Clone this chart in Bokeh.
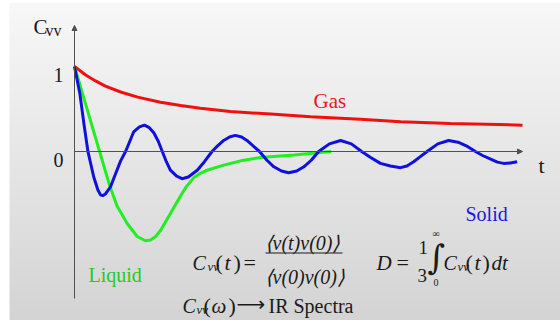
import numpy as np
from bokeh.plotting import figure
from bokeh.models import Range1d, Label, BoxAnnotation, Arrow, NormalHead
from bokeh.embed import file_html
from bokeh.resources import INLINE

# ---- data ----
gas_t = [0.00, 0.25, 0.47, 0.69, 1.03, 1.41, 1.92, 2.37, 2.81, 3.48, 4.38, 5.27, 6.38, 7.28, 8.39, 10.0]
gas_c = [1.00, 0.90, 0.83, 0.77, 0.70, 0.64, 0.58, 0.54, 0.51, 0.47, 0.44, 0.41, 0.38, 0.35, 0.33, 0.31]

liquid_t = [0.00, 0.28, 0.56, 0.79, 0.95, 1.18, 1.40, 1.58, 1.70, 1.81, 1.92, 2.14, 2.37, 2.50, 2.66,
            2.80, 2.96, 3.33, 3.71, 4.15, 4.90, 5.73]
liquid_c = [1.00, 0.50, 0.00, -0.41, -0.64, -0.85, -1.00, -1.05, -1.04, -1.00, -0.93, -0.73, -0.52, -0.41, -0.31,
            -0.26, -0.22, -0.16, -0.11, -0.07, -0.04, 0.00]

solid_t = [0.00, 0.12, 0.22, 0.30, 0.43, 0.52, 0.58, 0.63, 0.69, 0.80, 0.91, 1.03, 1.14, 1.32, 1.45, 1.56,
           1.67, 1.77, 1.87, 1.96, 2.05, 2.14, 2.28, 2.40, 2.54, 2.74, 2.90, 3.07, 3.20, 3.33, 3.46, 3.59,
           3.73, 3.85, 4.13, 4.29, 4.45, 4.62, 4.78, 4.96, 5.12, 5.29, 5.45, 5.69, 5.94, 6.18, 6.41, 6.61,
           6.83, 7.05, 7.28, 7.42, 7.57, 7.72, 7.87, 8.11, 8.35, 8.56, 8.77, 8.95, 9.12, 9.29, 9.44, 9.58,
           9.73, 9.88]
solid_c = [1.00, 0.68, 0.29, 0.00, -0.30, -0.45, -0.51, -0.52, -0.50, -0.42, -0.27, -0.11, 0.00, 0.23, 0.29, 0.31,
           0.28, 0.22, 0.12, 0.00, -0.12, -0.22, -0.29, -0.32, -0.30, -0.22, -0.12, 0.00, 0.07, 0.13, 0.17, 0.19,
           0.17, 0.13, 0.00, -0.10, -0.18, -0.23, -0.25, -0.23, -0.18, -0.10, 0.00, 0.09, 0.13, 0.09, 0.00, -0.07,
           -0.14, -0.17, -0.19, -0.17, -0.12, -0.06, 0.00, 0.09, 0.13, 0.11, 0.06, 0.00, -0.05, -0.09, -0.125, -0.14,
           -0.135, -0.12]

y_tick_values = ["1", "0"]
axis_labels = ["C", "vv", "t"]
series_labels = ["Gas", "Liquid", "Solid"]

# ---- layout ----
W, H = 560, 320
X0, PXT = 74.0, 44.8   # pixel of t=0, pixels per t unit
Y0, PXV = 151.0, 85.0  # pixel of C=0, pixels per C unit

p = figure(width=W, height=H, output_backend="svg", toolbar_location=None,
           x_range=Range1d(-X0 / PXT, (W - X0) / PXT),
           y_range=Range1d(-(H - Y0) / PXV, Y0 / PXV),
           min_border=0)
p.axis.visible = False
p.grid.visible = False
p.outline_line_color = None
p.background_fill_color = "white"
p.border_fill_color = "white"

# background gradient (slide)
n = 160
g = np.linspace(212, 248, n).astype(np.uint32)
img = np.empty((n, 1), dtype=np.uint32)
img[:, 0] = (255 << 24) | (g << 16) | (g << 8) | g
bx0 = (9 - X0) / PXT
by0 = -(H - Y0) / PXV
p.image_rgba(image=[img], x=bx0, y=by0, dw=(W - X0) / PXT - bx0, dh=(Y0 - 2) / PXV - by0)

# axes with arrows
axc = "#505050"
p.add_layout(Arrow(x_start=0, y_start=(Y0 - 298) / PXV, x_end=0, y_end=(Y0 - 25) / PXV,
                   line_color=axc, line_width=1,
                   end=NormalHead(size=5, line_color=axc, fill_color=axc)))
p.add_layout(Arrow(x_start=0, y_start=0, x_end=(522 - X0) / PXT, y_end=0,
                   line_color=axc, line_width=1,
                   end=NormalHead(size=5, line_color=axc, fill_color=axc)))

# curves
p.line(gas_t, gas_c, line_color="#f01010", line_width=3)
p.line(liquid_t, liquid_c, line_color="#22ee22", line_width=3)
p.line(solid_t, solid_c, line_color="#1010dd", line_width=3)

SERIF = "Liberation Serif"


def lbl(x, base, text, size, color="#1a1a1a", style="normal", align="left", font=SERIF):
    p.add_layout(Label(x=x, y=H - base, x_units="screen", y_units="screen", text=text,
                       text_font=font, text_font_size=f"{size}px", text_color=color,
                       text_font_style=style, text_align=align, text_baseline="alphabetic"))


# tick labels and axis labels
lbl(63, 74, y_tick_values[0], 20, align="right")
lbl(63, 159, y_tick_values[1], 20, align="right")
lbl(33, 26, axis_labels[0], 21)
lbl(45, 30, axis_labels[1], 16)
lbl(538, 165, axis_labels[2], 22)

# series labels
lbl(313, 100, series_labels[0], 21, color="#e8161e")
lbl(88, 274, series_labels[1], 20, color="#22cc22")
lbl(465, 213, series_labels[2], 20, color="#1818e0")

# formula 1
lbl(192, 262, "C", 20, style="italic")
lbl(207, 266, "vv", 13, style="italic")
lbl(215, 262, "(", 22)
lbl(224, 262, "t", 22, style="italic")
lbl(233, 262, ")", 22)
lbl(243, 262, "=", 22)
lbl(264, 242, "⟨v(t)v(0)⟩", 20, style="italic")
p.add_layout(BoxAnnotation(left=265, right=342, bottom=H - 253, top=H - 252,
                           left_units="screen", right_units="screen",
                           bottom_units="screen", top_units="screen",
                           fill_color="#1a1a1a", fill_alpha=1, line_color=None))
lbl(264, 276, "⟨v(0)v(0)⟩", 20, style="italic")

# formula 2
lbl(376, 262, "D", 21, style="italic")
lbl(396, 262, "=", 22)
lbl(418, 247, "1", 19)
lbl(417, 275, "3", 19)
lbl(427, 256, "∫", 34, font="DejaVu Serif")
lbl(432, 233, "∞", 10)
lbl(433, 282, "0", 10)
lbl(443, 262, "C", 20, style="italic")
lbl(457, 266, "vv", 13, style="italic")
lbl(465, 262, "(", 22)
lbl(474, 262, "t", 22, style="italic")
lbl(482, 262, ")", 22)
lbl(491, 262, "dt", 21, style="italic")

# line 3
lbl(182, 305, "C", 20, style="italic")
lbl(196, 309, "vv", 13, style="italic")
lbl(203, 305, "(", 22)
lbl(211, 305, "ω", 21, style="italic")
lbl(228, 305, ")", 22)
lbl(236, 303, "⟶", 20, font="DejaVu Sans")
lbl(268, 305, "IR Spectra", 20)

open("out.html", "w").write(file_html(p, INLINE))
